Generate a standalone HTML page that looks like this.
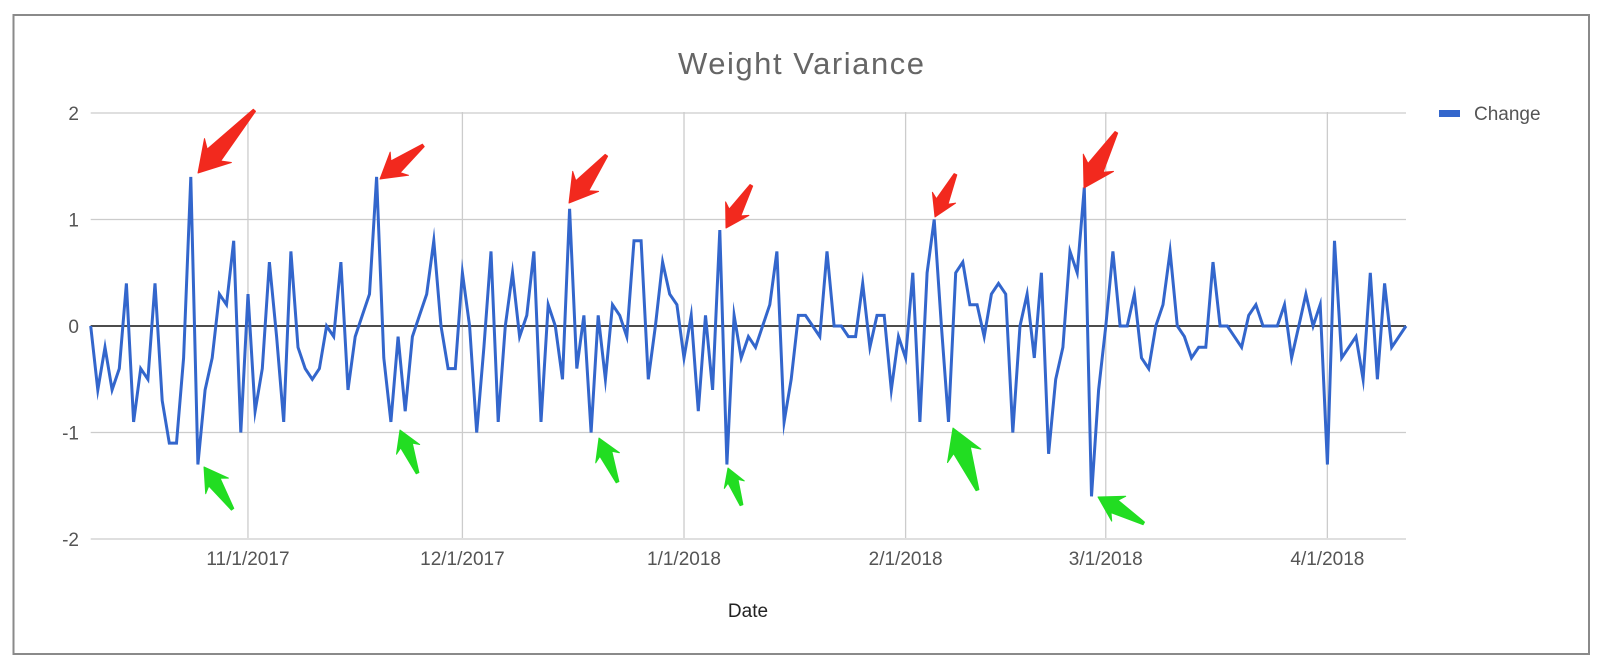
<!DOCTYPE html>
<html><head><meta charset="utf-8"><style>
body{margin:0;background:#fff;width:1600px;height:667px;overflow:hidden}
svg{display:block;font-family:"Liberation Sans",Arial,sans-serif}
</style></head><body>
<svg id="chart" width="1600" height="667">
<rect x="0" y="0" width="1600" height="667" fill="#fff"/>
<rect x="13.5" y="15" width="1575.5" height="639" fill="none" stroke="#8a8a8a" stroke-width="2"/>
<text x="801" y="74" text-anchor="middle" font-size="31" fill="#666" textLength="246">Weight Variance</text>
<g id="grid"></g>
<g id="series"></g>
<g id="arrows"></g>
<text x="748" y="617" text-anchor="middle" font-size="19" fill="#222">Date</text>
<rect x="1439" y="110" width="21" height="7" fill="#3366cc"/>
<text x="1474" y="120" font-size="19" fill="#555">Change</text>
</svg>
<script>
const startDay = 0; // Oct 10, 2017
const values = [0,-0.6,-0.2,-0.6,-0.4,0.4,-0.9,-0.4,-0.5,0.4,-0.7,-1.1,-1.1,-0.3,1.4,-1.3,-0.6,-0.3,0.3,0.2,0.8,-1.0,0.3,-0.8,-0.4,0.6,-0.1,-0.9,0.7,-0.2,-0.4,-0.5,-0.4,0.0,-0.1,0.6,-0.6,-0.1,0.1,0.3,1.4,-0.3,-0.9,-0.1,-0.8,-0.1,0.1,0.3,0.8,0.0,-0.4,-0.4,0.5,0.0,-1.0,-0.2,0.7,-0.9,0.0,0.5,-0.1,0.1,0.7,-0.9,0.2,0.0,-0.5,1.1,-0.4,0.1,-1.0,0.1,-0.5,0.2,0.1,-0.1,0.8,0.8,-0.5,0.0,0.6,0.3,0.2,-0.3,0.1,-0.8,0.1,-0.6,0.9,-1.3,0.1,-0.3,-0.1,-0.2,0.0,0.2,0.7,-0.9,-0.5,0.1,0.1,0.0,-0.1,0.7,0.0,0.0,-0.1,-0.1,0.4,-0.2,0.1,0.1,-0.6,-0.1,-0.3,0.5,-0.9,0.5,1.0,0.0,-0.9,0.5,0.6,0.2,0.2,-0.1,0.3,0.4,0.3,-1.0,0.0,0.3,-0.3,0.5,-1.2,-0.5,-0.2,0.7,0.5,1.3,-1.6,-0.6,0.0,0.7,0.0,0.0,0.3,-0.3,-0.4,0.0,0.2,0.7,0.0,-0.1,-0.3,-0.2,-0.2,0.6,0.0,0.0,-0.1,-0.2,0.1,0.2,0.0,0.0,0.0,0.2,-0.3,0.0,0.3,0.0,0.2,-1.3,0.8,-0.3,-0.2,-0.1,-0.5,0.5,-0.5,0.4,-0.2,-0.1,0];
const yTicks = [2,1,0,-1,-2];
const xTickDays = [22,52,83,114,142,173];
const xTickLabels = ["11/1/2017","12/1/2017","1/1/2018","2/1/2018","3/1/2018","4/1/2018"];
const redArrows = [[198,173,254,110],[380,179,423,145],[569,203,606,155],[726,228,751,185],[935,217,955,174],[1084,188,1116,132]];
const greenArrows = [[204,467,233,509],[400,430,418,473],[599,438,618,482],[728,468,742,505],[953,428,978,490],[1098,497,1144,523]];

const NS="http://www.w3.org/2000/svg";
const L=90.7,R=1406,T=112,B=538;
const nDays=values.length-1;
const xs=d=>L+(d-startDay)*(R-L)/nDays;
const ys=v=>326-v*106.5;
function mk(tag,attrs,parent){const e=document.createElementNS(NS,tag);for(const k in attrs)e.setAttribute(k,attrs[k]);parent.appendChild(e);return e;}
const grid=document.getElementById('grid');
yTicks.forEach(t=>{
  const ln=mk('line',{x1:L,x2:R,y1:ys(t),y2:ys(t),stroke:t===0?'#333':'#ccc','stroke-width':t===0?1.5:1.3},grid);
  
  
  const tx=mk('text',{x:79,y:ys(t)+7,'text-anchor':'end','font-size':19,fill:'#555'},grid);
  tx.textContent=String(t);
  
  
});
xTickDays.forEach((d,i)=>{
  const ln=mk('line',{x1:xs(d),x2:xs(d),y1:T,y2:B,stroke:'#ccc','stroke-width':1.3},grid);
  
  
  const tx=mk('text',{x:xs(d),y:565,'text-anchor':'middle','font-size':19,fill:'#555'},grid);
  tx.textContent=xTickLabels[i];
  
  
});
const z=mk('line',{x1:L,x2:R,y1:ys(0),y2:ys(0),stroke:'#333','stroke-width':1.5},grid);


const pts=values.map((v,i)=>xs(startDay+i).toFixed(1)+','+ys(v).toFixed(1)).join(' ');
const pl=mk('polyline',{points:pts,fill:'none',stroke:'#3366cc','stroke-width':3,'stroke-linejoin':'miter','stroke-miterlimit':10},document.getElementById('series'));


function arrow(a,color,name){
  const [tx,ty,sx,sy]=a;const dx=sx-tx,dy=sy-ty;const len=Math.hypot(dx,dy);
  const ux=dx/len,uy=dy/len,nx=-uy,ny=ux;
  const hl=Math.min(30,len*0.45),hw=hl*0.6,nw=Math.max(4,hl*0.3);
  const p=[[tx,ty],[tx+ux*hl+nx*hw,ty+uy*hl+ny*hw],[tx+ux*hl*0.8+nx*nw,ty+uy*hl*0.8+ny*nw],[sx+nx*2,sy+ny*2],[sx-nx*1,sy-ny*1],[tx+ux*hl*0.8-nx*nw,ty+uy*hl*0.8-ny*nw],[tx+ux*hl-nx*hw,ty+uy*hl-ny*hw]];
  const e=mk('polygon',{points:p.map(q=>q[0].toFixed(1)+','+q[1].toFixed(1)).join(' '),fill:color,stroke:color,'stroke-width':1,'stroke-linejoin':'round'},document.getElementById('arrows'));
  
  
}
redArrows.forEach(a=>arrow(a,'#f2291e','red-annotation-arrow'));
greenArrows.forEach(a=>arrow(a,'#22dd22','green-annotation-arrow'));
</script>
</body></html>
